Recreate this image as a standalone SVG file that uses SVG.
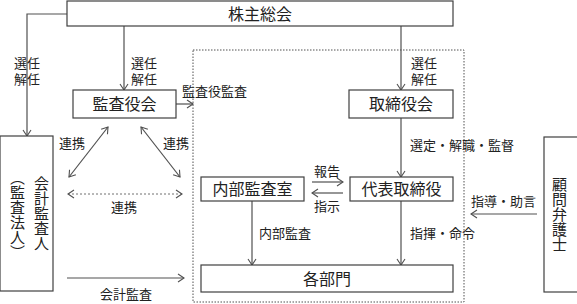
<svg xmlns="http://www.w3.org/2000/svg" width="577" height="304" viewBox="0 0 577 304">
<style>
.box{fill:#fff;stroke:#404040;stroke-width:1.2}
.ln{fill:none;stroke:#505050;stroke-width:1.2}
.dash{fill:none;stroke:#707070;stroke-width:1;stroke-dasharray:2 2}
.dot{fill:none;stroke:#505050;stroke-width:1;stroke-dasharray:1.5 1.5}
.t{font-family:"Liberation Serif","Noto Sans CJK JP",serif;font-size:16px;fill:#222;text-anchor:middle;dominant-baseline:central}
.s{font-family:"Liberation Serif","Noto Sans CJK JP",serif;font-size:13px;fill:#222;dominant-baseline:central}
.v{font-family:"Liberation Serif","Noto Sans CJK JP",serif;font-size:15px;fill:#222;text-anchor:middle;writing-mode:vertical-rl;dominant-baseline:central}
</style>
<defs>
<marker id="ah" markerUnits="userSpaceOnUse" markerWidth="12" markerHeight="12" refX="7" refY="5" orient="auto-start-reverse" viewBox="0 0 12 10">
<path d="M1,1 L7,5 L1,9" fill="none" stroke="#505050" stroke-width="1.1"/>
</marker>
</defs>
<rect class="dot" x="193" y="50" width="271" height="252"/>
<g id="connectors">
<path class="ln" d="M67,14 H27 V136" marker-end="url(#ah)"/>
<path class="ln" d="M124,26 V90" marker-end="url(#ah)"/>
<path class="ln" d="M401,26 V90" marker-end="url(#ah)"/>
<path class="ln" d="M176,104 H193" marker-end="url(#ah)"/>
<path class="ln" d="M401,118 V177" marker-end="url(#ah)"/>
<path class="ln" d="M401,201 V265" marker-end="url(#ah)"/>
<path class="ln" d="M252,201 V265" marker-end="url(#ah)"/>
<path class="ln" d="M312,182 H343" marker-end="url(#ah)"/>
<path class="ln" d="M343,193 H312" marker-end="url(#ah)"/>
<path class="ln" d="M537,214 H471" marker-end="url(#ah)"/>
<path class="ln" d="M67,278 H184" marker-end="url(#ah)"/>
<path class="ln" d="M108,127 L69,177" marker-start="url(#ah)" marker-end="url(#ah)"/>
<path class="ln" d="M141,127 L180,177" marker-start="url(#ah)" marker-end="url(#ah)"/>
<path class="dash" d="M68,194 H182" marker-start="url(#ah)" marker-end="url(#ah)"/>
<text class="s" x="14" y="63">選任</text>
<text class="s" x="14" y="79">解任</text>
<text class="s" x="131" y="63">選任</text>
<text class="s" x="131" y="79">解任</text>
<text class="s" x="411" y="63">選任</text>
<text class="s" x="411" y="79">解任</text>
<text class="s" x="182" y="91">監査役監査</text>
<text class="s" x="410" y="145">選定・解職・監督</text>
<text class="s" x="314" y="171">報告</text>
<text class="s" x="314" y="206">指示</text>
<text class="s" x="259" y="233">内部監査</text>
<text class="s" x="410" y="233">指揮・命令</text>
<text class="s" x="471" y="201">指導・助言</text>
<text class="s" x="59" y="143">連携</text>
<text class="s" x="163" y="143">連携</text>
<text class="s" x="111" y="207">連携</text>
<text class="s" x="100" y="294">会計監査</text>
</g>
<g id="kabunushi"><rect class="box" x="67" y="1" width="386" height="25"/><text class="t" x="260" y="14">株主総会</text></g>
<g id="kansayakukai"><rect class="box" x="73" y="90" width="103" height="28"/><text class="t" x="124.5" y="104">監査役会</text></g>
<g id="torishimariyakukai"><rect class="box" x="349" y="90" width="104" height="28"/><text class="t" x="401" y="104">取締役会</text></g>
<g id="daihyo"><rect class="box" x="350" y="177" width="103" height="24"/><text class="t" x="401.5" y="189">代表取締役</text></g>
<g id="naibu"><rect class="box" x="201" y="177" width="103" height="24"/><text class="t" x="252.5" y="189">内部監査室</text></g>
<g id="kakubumon"><rect class="box" x="201" y="265" width="252" height="27"/><text class="t" x="327" y="279">各部門</text></g>
<g id="kaikei"><rect class="box" x="0" y="136" width="53" height="155"/><text class="v" x="40" y="213">会計監査人</text><text class="v" x="16" y="215">（監査法人）</text></g>
<g id="komon"><rect class="box" x="544" y="137" width="40" height="155"/><text class="v" x="558" y="214">顧問弁護士</text></g>
</svg>
